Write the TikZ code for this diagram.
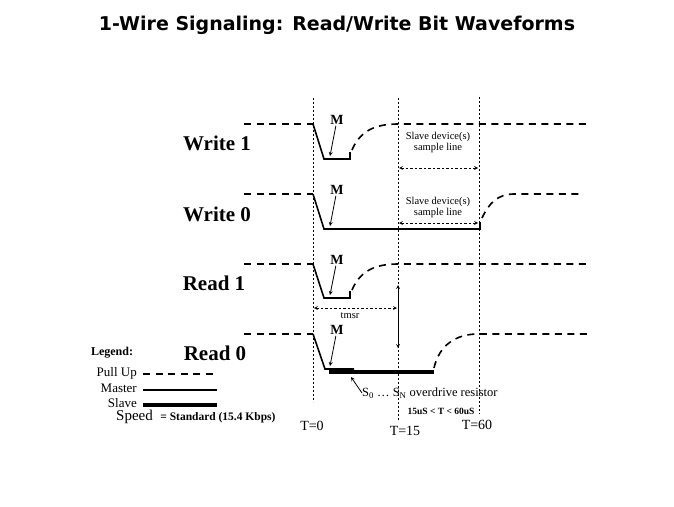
\documentclass[tikz,border=0pt]{standalone}
\usepackage{fontspec}
\setmainfont{Liberation Serif}
\newfontfamily\headfont{DejaVu Sans}
\usetikzlibrary{arrows}

\tikzset{
    pullup/.style={line width=1.6pt, dash pattern=on 7pt off 5.5pt},
    master/.style={line width=1.6pt},
    slave/.style={line width=4pt},
    timeline/.style={line width=0.6pt, dash pattern=on 2pt off 2pt},
    span/.style={<->, >=stealth, line width=0.7pt, dash pattern=on 2.5pt off 2pt},
    pointer/.style={->, >=stealth, line width=0.8pt},
    rowlabel/.style={font=\fontsize{21}{24}\selectfont\bfseries, inner sep=0pt},
    mlabel/.style={font=\fontsize{14}{15}\selectfont\bfseries, inner sep=1pt},
    note/.style={font=\fontsize{10.5}{11}\selectfont, align=center, inner sep=0pt},
    tlabel/.style={font=\fontsize{14}{16}\selectfont, inner sep=0pt},
    legendtext/.style={font=\fontsize{13}{15}\selectfont, anchor=east, inner sep=0pt}
}

\begin{document}
\begin{tikzpicture}[x=1pt, y=-1pt]
    \useasboundingbox (0,0) rectangle (674,506);

    \node[font=\headfont\bfseries\fontsize{19}{22}\selectfont] (title) at (337,25) {1-Wire Signaling: Read/Write Bit Waveforms};

    % time markers
    \coordinate (t0 top) at (313,98);
    \coordinate (t0 bot) at (313,402);
    \coordinate (t15 top) at (398,98);
    \coordinate (t15 bot) at (398,420);
    \coordinate (t60 top) at (479,97);
    \coordinate (t60 bot) at (479,414);
    \draw[timeline] (t0 top)--(t0 bot);
    \draw[timeline] (t15 top)--(t15 bot);
    \draw[timeline] (t60 top)--(t60 bot);
    \node[tlabel] (t0) at (312,426) {T=0};
    \node[tlabel] (t15) at (405,431) {T=15};
    \node[tlabel] (t60) at (477,425) {T=60};

    % row labels
    \node[rowlabel] (write 1) at (217,143) {Write 1};
    \node[rowlabel] (write 0) at (217,214) {Write 0};
    \node[rowlabel] (read 1) at (214,283) {Read 1};
    \node[rowlabel] (read 0) at (215,353) {Read 0};

    % Write 1
    \draw[pullup] (244,124)--(313,124);
    \draw[master] (313,124)--(324,159)--(350,159)--(350,152);
    \draw[pullup] (352,150) .. controls (360,131) and (375,124) .. (398,124)--(590,124);
    \node[mlabel] (m w1) at (337,120) {M};
    \coordinate (m w1 tip) at (330,156);
    \draw[pointer] (m w1)--(m w1 tip);
    \node[note] (sample w1) at (438,142) {Slave device(s)\\sample line};
    \coordinate (span w1 a) at (399,168);
    \coordinate (span w1 b) at (478,168);
    \draw[span] (span w1 a)--(span w1 b);

    % Write 0
    \draw[pullup] (244,194)--(313,194);
    \draw[master] (313,194)--(324,229)--(480,229)--(480,222);
    \draw[pullup] (482,218) .. controls (489,203) and (498,194) .. (514,194)--(580,194);
    \node[mlabel] (m w0) at (337,190) {M};
    \coordinate (m w0 tip) at (330,226);
    \draw[pointer] (m w0)--(m w0 tip);
    \node[note] (sample w0) at (438,207) {Slave device(s)\\sample line};
    \coordinate (span w0 a) at (399,223);
    \coordinate (span w0 b) at (478,223);
    \draw[span] (span w0 a)--(span w0 b);

    % Read 1
    \draw[pullup] (244,264)--(313,264);
    \draw[master] (313,264)--(324,298)--(350,298)--(350,291);
    \draw[pullup] (352,290) .. controls (360,271) and (375,264) .. (398,264)--(590,264);
    \node[mlabel] (m r1) at (337,260) {M};
    \coordinate (m r1 tip) at (330,295);
    \draw[pointer] (m r1)--(m r1 tip);
    \coordinate (tmsr a) at (314,308);
    \coordinate (tmsr b) at (397,308);
    \draw[span] (tmsr a)--(tmsr b);
    \node[note] (tmsr) at (350,316) {tmsr};
    \coordinate (sample up) at (398,285);
    \coordinate (sample dn) at (398,348);
    \draw[<->, >=stealth, line width=0.8pt] (sample up)--(sample dn);

    % Read 0
    \draw[pullup] (244,334)--(313,334);
    \draw[master] (313,334)--(325,369)--(354,369);
    \draw[slave] (329,372)--(434,372);
    \draw[pullup] (434,368) .. controls (439,346) and (455,334) .. (478,334)--(590,334);
    \node[mlabel] (m r0) at (337,330) {M};
    \coordinate (m r0 tip) at (330,366);
    \draw[pointer] (m r0)--(m r0 tip);
    \node[font=\fontsize{12.5}{14}\selectfont, anchor=west, inner sep=0pt] (odr) at (362,393) {S\textsubscript{0} … S\textsubscript{N} overdrive resistor};
    \coordinate (odr tip) at (351,377);
    \draw[pointer] (odr.west)--(odr tip);
    \node[font=\fontsize{9.5}{11}\selectfont\bfseries, inner sep=0pt] (window) at (441,411) {15uS < T < 60uS};

    % legend
    \node[font=\fontsize{12}{14}\selectfont\bfseries, inner sep=0pt] (legend) at (112,353) {Legend:};
    \node[legendtext] (pull up) at (137,373) {Pull Up};
    \node[legendtext] (master) at (137,388) {Master};
    \node[legendtext] (slave) at (137,403) {Slave};
    \coordinate (pull up end) at (215,374);
    \coordinate (master end) at (217,390);
    \coordinate (slave end) at (217,405);
    \draw[pullup] ([xshift=6pt]pull up.east |- pull up end)--(pull up end);
    \draw[master] ([xshift=6pt]master.east |- master end)--(master end);
    \draw[slave] ([xshift=6pt]slave.east |- slave end)--(slave end);
    \node[anchor=west, inner sep=0pt] (speed) at (116,417) {\fontsize{15}{17}\selectfont Speed\ \ {\fontsize{11.5}{14}\selectfont\bfseries = Standard (15.4 Kbps)}};
\end{tikzpicture}
\end{document}
